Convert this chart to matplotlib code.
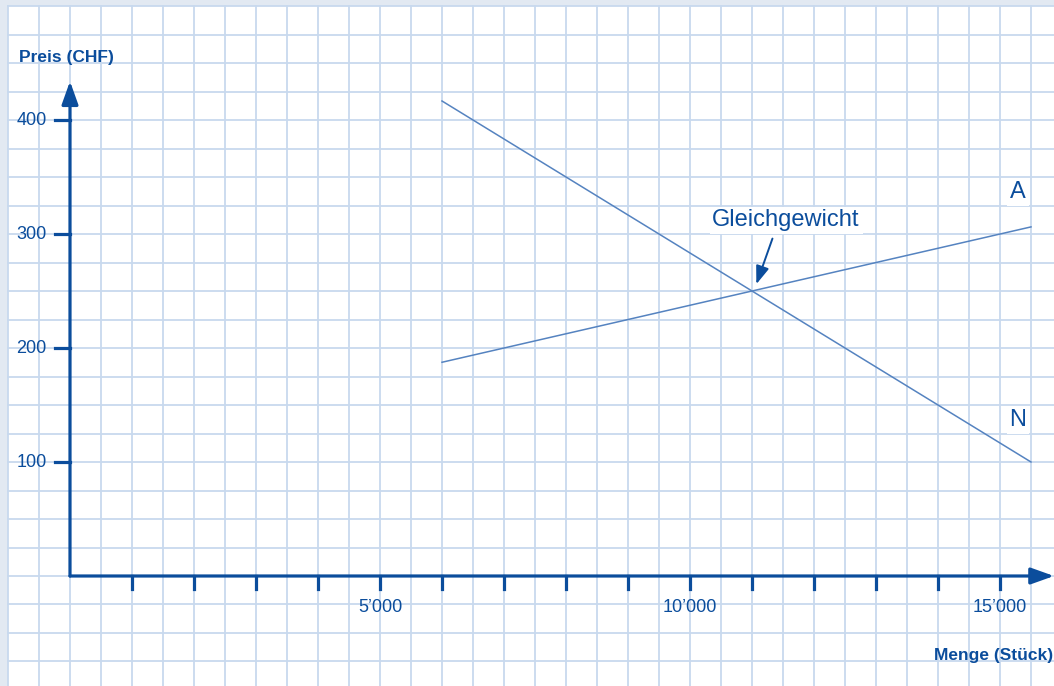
import numpy as np
import matplotlib.pyplot as plt
from matplotlib.patches import Rectangle

# ====================================================================
# DATA
menge = [6000, 15500]            # Stück
nachfrage = [416.7, 100.0]       # N, Preis in CHF
angebot = [187.5, 306.25]        # A, Preis in CHF
gleichgewicht = (11000, 250)

y_ticks = [100, 200, 300, 400]
x_ticks = list(range(1000, 16000, 1000))
x_labels = {5000: "5\u2019000", 10000: "10\u2019000", 15000: "15\u2019000"}

# ====================================================================
# STYLE
AXIS_BLUE = "#0b4d9c"
LINE_BLUE = "#5583c0"
GRID_BLUE = "#c8d9ee"
FRAME_BLUE = "#e2e9f2"
FONT = ["Liberation Sans", "DejaVu Sans"]

fig = plt.figure(figsize=(10.54, 6.86), dpi=100, facecolor=FRAME_BLUE)
ax = fig.add_axes([0, 0, 1, 1])
ax.set_xlim(-1129, 15871)
ax.set_ylim(-96.5, 505.3)
ax.axis("off")

# white paper with grid
ax.add_patch(Rectangle((-1000, -200), 20000, 700, facecolor="white",
                       edgecolor="none", zorder=0))
for gx in np.arange(-1000, 16000, 500):
    ax.plot([gx, gx], [-200, 500], color=GRID_BLUE, lw=1.3, zorder=1)
for gy in np.arange(-75, 525, 25):
    ax.plot([-1000, 16000], [gy, gy], color=GRID_BLUE, lw=1.3, zorder=1)

# axes with arrows
arrow = dict(arrowstyle="-|>,head_width=0.5,head_length=1.4",
             color=AXIS_BLUE, lw=2.3, shrinkA=0, shrinkB=0)
ax.annotate("", xy=(0, 434), xytext=(0, 0), arrowprops=arrow, zorder=4)
ax.annotate("", xy=(15871, 0), xytext=(0, 0), arrowprops=arrow, zorder=4)

for yt in y_ticks:
    ax.plot([-245, 0], [yt, yt], color=AXIS_BLUE, lw=2.3, zorder=4)
    ax.text(-375, yt, str(yt), ha="right", va="center", fontsize=13,
            color=AXIS_BLUE, family=FONT, zorder=5)
for xt in x_ticks:
    ax.plot([xt, xt], [0, -11], color=AXIS_BLUE, lw=2.3, zorder=4)
    if xt in x_labels:
        ax.text(xt, -28, x_labels[xt], ha="center", va="center",
                fontsize=13, color=AXIS_BLUE, family=FONT, zorder=5)

ax.text(-820, 455, "Preis (CHF)", ha="left", va="center", fontsize=12.5,
        fontweight="bold", color=AXIS_BLUE, family=FONT, zorder=5)
ax.text(15850, -70, "Menge (St\u00fcck)", ha="right", va="center",
        fontsize=12.5, fontweight="bold", color=AXIS_BLUE, family=FONT,
        zorder=5)

# curves
ax.plot(menge, nachfrage, color=LINE_BLUE, lw=1.1, zorder=3)
ax.plot(menge, angebot, color=LINE_BLUE, lw=1.1, zorder=3)

box = dict(facecolor="white", edgecolor="none", pad=2)
ax.text(15290, 337, "A", ha="center", va="center", fontsize=17,
        color=AXIS_BLUE, family=FONT, bbox=box, zorder=5)
ax.text(15290, 137, "N", ha="center", va="center", fontsize=17,
        color=AXIS_BLUE, family=FONT, bbox=box, zorder=5)
ax.text(11550, 312, "Gleichgewicht", ha="center", va="center",
        fontsize=17, color=AXIS_BLUE, family=FONT, bbox=box, zorder=5)
ax.annotate("", xy=(gleichgewicht[0] + 70, gleichgewicht[1] + 6),
            xytext=(11330, 296),
            arrowprops=dict(arrowstyle="-|>,head_width=0.4,head_length=1.1",
                            color=AXIS_BLUE, lw=1.4, shrinkA=0, shrinkB=0),
            zorder=5)

fig.savefig("out.png", dpi=100, facecolor=fig.get_facecolor())
